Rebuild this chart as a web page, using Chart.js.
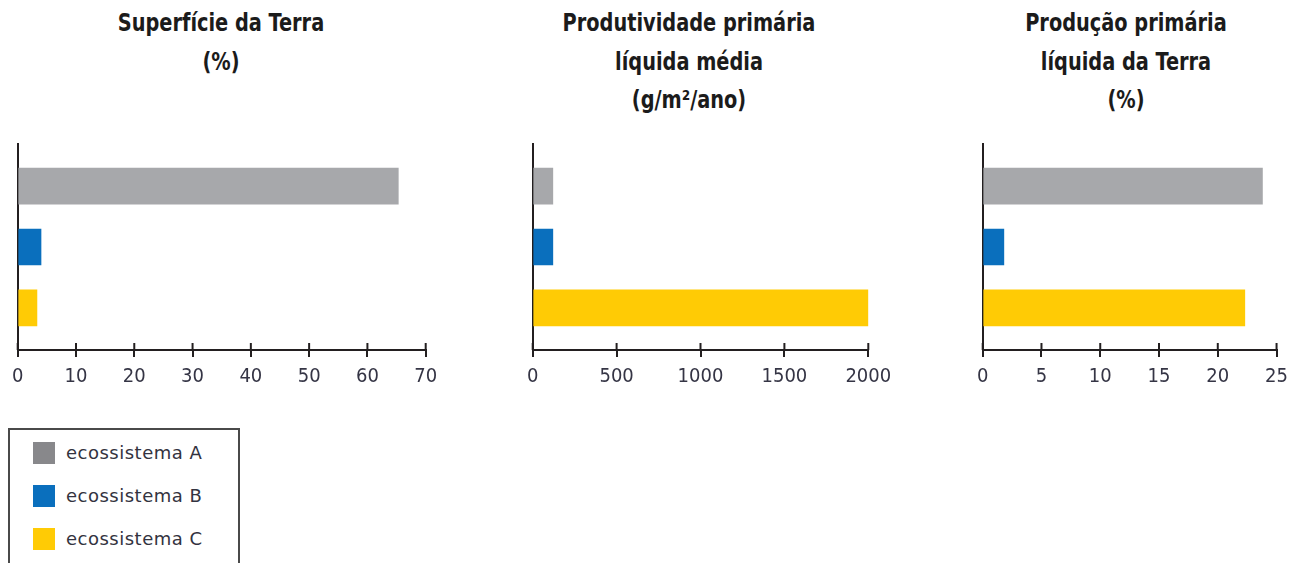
<!DOCTYPE html>
<html>
<head>
<meta charset="utf-8">
<script src="https://cdn.jsdelivr.net/npm/chart.js@4.4.0/dist/chart.umd.min.js"></script>
<style>
  html, body { margin: 0; padding: 0; background: #fff; }
  body { width: 1292px; height: 563px; position: relative; overflow: hidden; }
  .title {
    position: absolute; width: 400px; text-align: center;
    font-family: "DejaVu Sans Condensed", sans-serif;
    font-weight: bold; font-size: 25px; line-height: 38.5px; color: #1b1b1b;
    transform: scaleX(0.86); transform-origin: 50% 0;
  }
  .box { position: absolute; }
  #legend {
    position: absolute; left: 8px; top: 428px; width: 228px; height: 150px;
    border: 2px solid #4a4a4a;
    font-family: "DejaVu Sans", sans-serif; font-size: 18px; letter-spacing: 0.5px; color: #333340;
  }
  .item { position: absolute; left: 23px; height: 22px; line-height: 22px; white-space: nowrap; }
  .sw { display: inline-block; width: 22px; height: 22px; vertical-align: top; margin-right: 11px; }
</style>
</head>
<body>
<div class="title" style="left:21px; top:4px;">Superfície da Terra<br>(%)</div>
<div class="title" style="left:489px; top:4px;">Produtividade primária<br>líquida média<br>(g/m²/ano)</div>
<div class="title" style="left:926px; top:4px;">Produção primária<br>líquida da Terra<br>(%)</div>

<div class="box" style="left:0px; top:130px; width:450px; height:260px;"><canvas id="c1"></canvas></div>
<div class="box" style="left:510px; top:130px; width:400px; height:260px;"><canvas id="c2"></canvas></div>
<div class="box" style="left:960px; top:130px; width:336px; height:260px;"><canvas id="c3"></canvas></div>

<div id="legend"></div>

<script>
// ecosystems and colours
const ecossistemas = ['ecossistema A', 'ecossistema B', 'ecossistema C'];
const barColors = ['#a7a8ab', '#0a6fbd', '#ffcb05'];
const legendColors = ['#88888b', '#0a6fbd', '#ffcb05'];

// values
const superficie = [65.3, 4.0, 3.3];          // %
const produtividade = [120, 120, 2000];       // g/m2/ano
const producao = [23.8, 1.8, 22.3];           // %

// x axis ranges and ticks
const ticks1 = { max: 70, step: 10 };
const ticks2 = { max: 2000, step: 500 };
const ticks3 = { max: 25, step: 5 };

const axisColor = '#231f20';

// small plugin so the x ticks cross the axis line (up and down)
const crossTicks = {
    id: 'crossTicks',
    afterDraw(chart) {
        const x = chart.scales.x;
        const ctx = chart.ctx;
        const yAxis = chart.chartArea.bottom;
        ctx.save();
        ctx.strokeStyle = axisColor;
        ctx.lineWidth = 2;
        x.ticks.forEach(t => {
            const px = x.getPixelForValue(t.value);
            ctx.beginPath();
            ctx.moveTo(px, yAxis - 7);
            ctx.lineTo(px, yAxis);
            ctx.stroke();
        });
        ctx.restore();
    }
};

function makeChart(id, values, range, padLeft, padRight) {
    new Chart(document.getElementById(id), {
        type: 'bar',
        data: {
            datasets: [{
                data: values.map((v, i) => ({ x: v, y: i })),
                backgroundColor: barColors,
                barThickness: 36
            }]
        },
        options: {
            indexAxis: 'y',
            responsive: true,
            maintainAspectRatio: false,
            animation: false,
            layout: { padding: { top: 14, left: padLeft, right: padRight, bottom: 0 } },
            plugins: { legend: { display: false }, tooltip: { enabled: false } },
            scales: {
                y: {
                    type: 'linear',
                    reverse: true,
                    offset: false,
                    min: -0.69,
                    max: 2.69,
                    ticks: { display: false },
                    grid: { display: false, offset: false },
                    border: { display: true, color: axisColor, width: 2 },
                    afterFit: s => { s.width = 0; }
                },
                x: {
                    min: 0,
                    max: range.max,
                    ticks: {
                        stepSize: range.step,
                        padding: 8,
                        color: '#353545',
                        font: { family: 'DejaVu Sans Condensed', size: 20 },
                        callback: v => String(v)
                    },
                    grid: { drawOnChartArea: false, tickLength: 7, color: axisColor, lineWidth: 2 },
                    border: { display: true, color: axisColor, width: 2 },
                    afterFit: s => { s.height = 40; }
                }
            }
        },
        plugins: [crossTicks]
    });
}

makeChart('c1', superficie, ticks1, 17.7, 24.3);
makeChart('c2', produtividade, ticks2, 22.7, 41.7);
makeChart('c3', producao, ticks3, 22.7, 12);

// legend
const legend = document.getElementById('legend');
ecossistemas.forEach((name, i) => {
    const row = document.createElement('div');
    row.className = 'item';
    row.style.top = (12 + i * 43) + 'px';
    row.innerHTML = '<span class="sw" style="background:' + legendColors[i] + '"></span>' + name;
    legend.appendChild(row);
});
</script>
</body>
</html>
